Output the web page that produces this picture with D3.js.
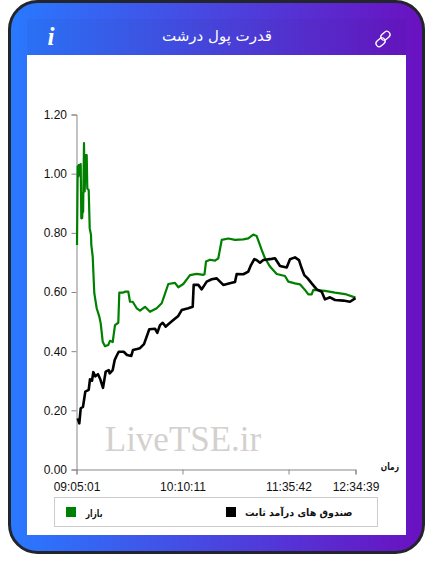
<!DOCTYPE html>
<html><head><meta charset="utf-8">
<script src="https://cdn.jsdelivr.net/npm/d3@7/dist/d3.min.js"></script>
<style>html,body{margin:0;padding:0;background:#fff;overflow:hidden}svg{display:block}</style>
</head><body><svg id="c" width="433" height="574"></svg>
<script>
const titleText = "قدرت پول درشت";
const xTickIndex = [0, 106, 212, 279];
const xTickLabels = ["09:05:01", "10:10:11", "11:35:42", "12:34:39"];
const yTicks = [0, 0.2, 0.4, 0.6, 0.8, 1.0, 1.2];
const xAxisName = "زمان";
const seriesNames = ["بازار", "صندوق های درآمد ثابت"];
const seriesColors = ["#008000", "#000000"];
const marketIndex = [0.5,1.2,1.8,2.4,3,4.2,4.8,5.7,6.5,6.6,7.5,8.2,9.2,10.2,10.8,12.2,13.2,14.5,14.8,16.2,17.8,20.2,22.8,24.2,26.2,28.5,31.8,33.5,36.2,38.5,41.8,42.8,46.8,48.5,51.8,53.5,56.2,60.2,63.5,68.5,70,73.5,80.2,85.2,87.5,91.8,98.5,101.8,106.8,113.5,120.2,126.8,128,129.5,133.5,138.5,141.8,145.2,151.8,158.5,166.8,171.8,176.8,180.2,185.2,188.5,193.5,200.2,208.5,211.8,218.5,223.5,228.5,231.8,235.2,236.8,248.5,258.5,268.5,279];
const marketValues = [.759,1.025,.99,1.03,.995,1.032,.849,.85,.935,.87,1.103,.94,1.063,1.063,.95,.945,.815,.793,.759,.72,.596,.545,.517,.494,.432,.417,.421,.435,.431,.488,.496,.598,.598,.601,.601,.567,.567,.545,.537,.55,.545,.533,.545,.562,.584,.627,.631,.616,.627,.657,.661,.658,.66,.703,.709,.706,.714,.776,.781,.776,.778,.781,.794,.789,.742,.714,.686,.661,.654,.635,.629,.626,.607,.592,.592,.607,.604,.598,.593,.581];
const fundIndex = [1.2,2.8,4.2,6.5,8.8,12.2,13.5,15.5,16.8,18.8,21.5,23.8,26.5,29.2,32.2,33.2,36.2,38.2,39.8,42.2,47.2,50.5,54.8,56.5,60.5,63.5,67.5,70.8,72.8,78.5,80.8,83.5,86.2,89.2,91.8,96.8,101.8,105.2,111.8,116.2,117.2,121.8,125.2,130.2,135.2,140.2,143.5,146.8,155.2,158.5,160.2,166.8,171.8,174.5,177.8,180,183.5,186.8,195.2,198.5,203.5,210.2,213.5,218.5,222.5,225.2,227.8,231.2,235.2,240.2,245.2,248.5,253.5,258.5,266.8,273.5,279];
const fundValues = [.173,.156,.207,.212,.263,.269,.305,.30,.329,.315,.322,.305,.276,.331,.336,.325,.336,.37,.382,.398,.398,.387,.384,.404,.407,.41,.424,.455,.474,.476,.462,.488,.496,.483,.491,.505,.519,.539,.545,.55,.624,.624,.609,.635,.643,.646,.635,.624,.631,.634,.661,.66,.669,.691,.711,.708,.699,.708,.712,.714,.688,.683,.711,.717,.708,.68,.657,.646,.629,.609,.601,.575,.582,.573,.571,.567,.579];

const svg = d3.select("#c");
const defs = svg.append("defs");
const grad = defs.append("linearGradient").attr("id","g").attr("x1","0").attr("x2","1").attr("y1","0").attr("y2","0");
grad.append("stop").attr("offset","0").attr("stop-color","#2979ff");
grad.append("stop").attr("offset","1").attr("stop-color","#6a11c0");

svg.append("rect").attr("x",9.5).attr("y",1.5).attr("width",414).attr("height",551).attr("rx",28)
  .attr("fill","url(#g)").attr("stroke","#23252c").attr("stroke-width",3);
svg.append("rect").attr("x",27).attr("y",19).attr("width",379).attr("height",36).attr("fill","#000").attr("opacity",0.03);
svg.append("rect").attr("x",27).attr("y",55).attr("width",379).attr("height",480).attr("fill","#fff");

svg.append("text").attr("x",217).attr("y",41).attr("text-anchor","middle").attr("direction","rtl")
  .attr("font-family","'DejaVu Sans'").attr("font-size",15).attr("fill","#fff").text(titleText);
svg.append("text").attr("x",51).attr("y",45).attr("text-anchor","middle")
  .attr("font-family","'Liberation Serif'").attr("font-style","italic").attr("font-weight","bold").attr("font-size",25).attr("fill","#fff").text("i");
const link = svg.append("g").attr("transform","translate(383,39) rotate(-42)").attr("fill","none").attr("stroke","#fff").attr("stroke-width",1.3);
link.append("rect").attr("x",-9).attr("y",-3.2).attr("width",10).attr("height",6.4).attr("rx",3.2).attr("transform","translate(0,0.8)");
link.append("rect").attr("x",-1).attr("y",-3.2).attr("width",10).attr("height",6.4).attr("rx",3.2).attr("transform","translate(0,-0.8)");

svg.append("text").attr("x",183).attr("y",451).attr("text-anchor","middle")
  .attr("font-family","'Liberation Serif'").attr("font-size",35).attr("fill","#d4d0cd").text("LiveTSE.ir");

const x = d3.scaleLinear().domain([0,279]).range([76.5,355.5]);
const y = d3.scaleLinear().domain([0,1.2]).range([469.5,114.5]);

const styleAxis = g => {
  g.selectAll("path,line").attr("stroke","#888");
  g.selectAll("text").attr("font-family","'Liberation Sans'").attr("font-size",12).attr("fill","#111");
};
svg.append("g").attr("transform","translate(76.5,0)")
  .call(d3.axisLeft(y).tickValues(yTicks).tickFormat(d3.format(".2f")).tickSizeOuter(0).tickSize(5).tickPadding(4.5))
  .call(styleAxis);
svg.append("g").attr("transform","translate(0,469.5)")
  .call(d3.axisBottom(x).tickValues(xTickIndex).tickFormat((d,i)=>xTickLabels[i]).tickSizeOuter(0).tickSize(5).tickPadding(8))
  .call(styleAxis);

const line = d3.line().x(d=>x(d[0])).y(d=>y(d[1]));
[[marketIndex,marketValues],[fundIndex,fundValues]].forEach(([ix,vals],k)=>{
  svg.append("path").attr("d",line(ix.map((v,i)=>[v,vals[i]])))
    .attr("fill","none").attr("stroke",seriesColors[k]).attr("stroke-width",k?2.6:2.2).attr("stroke-linejoin","round");
});

const faLabel = (tx,ty,size,w,str)=>svg.append("text").attr("x",tx-w).attr("y",ty)
  .attr("text-anchor","start").attr("direction","rtl")
  .attr("font-family","'DejaVu Sans'").attr("font-weight","bold").attr("font-size",size).attr("fill","#111")
  .attr("transform",`translate(${tx},0) scale(${w/size/ (str.length*0.5)},1) translate(${-tx},0)`)
  .attr("x",tx).text(str);
faLabel(399,470,10,10,xAxisName).attr("transform",`translate(399,0) scale(0.75,1) translate(-399,0)`);

svg.append("rect").attr("x",54.5).attr("y",497.5).attr("width",323).attr("height",29).attr("fill","#fff").attr("stroke","#ccc");
svg.append("rect").attr("x",66).attr("y",507).attr("width",10).attr("height",10).attr("fill",seriesColors[0]);
faLabel(102.5,517,10,10,seriesNames[0]).attr("transform",`translate(102.5,0) scale(0.75,1) translate(-102.5,0)`);
svg.append("rect").attr("x",226).attr("y",507).attr("width",10).attr("height",10).attr("fill",seriesColors[1]);
faLabel(352.5,516.5,10,10,seriesNames[1]).attr("transform",`translate(352.5,0) scale(0.95,1) translate(-352.5,0)`);
</script></body></html>
